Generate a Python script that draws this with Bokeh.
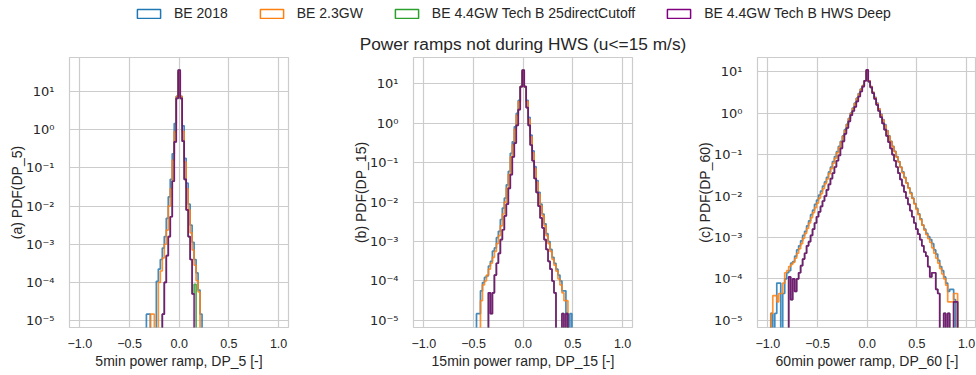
from bokeh.plotting import figure
from bokeh.layouts import column, row
from bokeh.models import Range1d, FixedTicker, CustomJSTickFormatter, Legend, LegendItem
from bokeh.embed import file_html
from bokeh.resources import INLINE

SERIES = ["BE 2018", "BE 2.3GW", "BE 4.4GW Tech B 25directCutoff", "BE 4.4GW Tech B HWS Deep"]
COLORS = ["#1f77b4", "#ff7f0e", "#2ca02c", "#800080"]
BIN_WIDTH = 0.02          # histogram bin width; bin centre = index * BIN_WIDTH
X_TICKS = [-1.0, -0.5, 0.0, 0.5, 1.0]
Y_TICKS = [1e-5, 1e-4, 1e-3, 1e-2, 1e-1, 1e0, 1e1]

# log10(PDF) per bin (None = empty bin); *_start = index of first bin
# ---- (a) 5 min ramps
a_be2018_start = -16
a_be2018 = [-4.83, -4.83, None, None, None, -3.97, -3.65, -3.4, -3.1, -2.8, -2.32, -1.76, -1.3, -0.63,
            0.16, 0.87, 1.5, 0.87, 0.1, -0.75, -1.4, -1.95, -2.5, -2.95, -3.4, -3.75, -4.2, -4.83]
a_be23_start = -14
a_be23 = [-4.83, -4.83, None, None, -4.0, -3.7, -3.36, -3.0, -2.63, -2.0, -1.54, -0.8, -0.05, 0.87,
          1.52, 0.87, -0.05, -0.85, -1.55, -2.1, -2.7, -3.15, -3.55, -3.95, -4.25]
a_cut_start = -8
a_cut = [-4.83, -4.0, -3.3, -2.8, -2.28, -1.35, -0.32, 0.82, 1.56, 0.82, -0.3, -1.3, -2.1, -2.8, -3.4,
         -4.3, -4.05]
a_deep_start = -8
a_deep = [-4.83, -4.0, -3.3, -2.8, -2.28, -1.35, -0.32, 0.82, 1.56, 0.82, -0.3, -1.3, -2.1, -2.8, -3.4,
          -4.3]

# ---- (b) 15 min ramps
b_be2018_start = -23
b_be2018 = [-4.83, -4.83, -4.25, -4.04, -3.91, -3.87, -3.62, -3.5, -3.24, -3.16, -2.9, -2.74, -2.44,
            -2.15, -1.9, -1.56, -1.22, -0.76, -0.47, -0.09, 0.25, 0.58, 0.93, 1.3, 0.93, 0.58, 0.15,
            -0.3, -0.7, -1.1, -1.45, -1.75, -2.05, -2.3, -2.55, -2.8, -3.0, -3.2, -3.4, -3.55, -3.7,
            -3.85, -4.0, -4.25, -4.25, -4.83, None, -4.83]
b_be23_start = -21
b_be23 = [-4.5, -4.1, -4.0, -3.85, -3.7, -3.55, -3.4, -3.25, -3.05, -2.85, -2.6, -2.3, -2.0, -1.65,
          -1.3, -0.85, -0.55, -0.15, 0.2, 0.55, 0.93, 1.32, 0.93, 0.55, 0.1, -0.35, -0.75, -1.15, -1.5,
          -1.8, -2.1, -2.35, -2.6, -2.85, -3.05, -3.25, -3.45, -3.6, -3.75, -3.95, -4.1, -4.3, -4.5,
          -4.5]
b_cut_start = -17
b_cut = [-4.3, -4.83, -4.3, -3.85, -3.55, -3.3, -2.95, -2.7, -2.35, -2.05, -1.65, -1.3, -0.85, -0.5,
         -0.05, 0.35, 0.93, 1.35, 0.93, 0.4, -0.05, -0.55, -0.95, -1.4, -1.75, -2.1, -2.4, -2.65,
         -2.95, -3.2, -3.5, -3.7, -4.0, -4.3, None, None, None, -4.83, None, -4.83]
b_deep_start = -17
b_deep = [-4.3, -4.83, -4.3, -3.85, -3.55, -3.3, -2.95, -2.7, -2.35, -2.05, -1.65, -1.3, -0.85, -0.5,
          -0.05, 0.35, 0.93, 1.35, 0.93, 0.4, -0.05, -0.55, -0.95, -1.4, -1.75, -2.1, -2.4, -2.65,
          -2.95, -3.2, -3.5, -3.7, -4.0, -4.3, None, None, None, -4.83, None, -4.83]

# ---- (c) 60 min ramps
c_be2018_start = -48
c_be2018 = [-4.83, None, -4.83, -4.1, -4.1, None, -4.35, -4.0, -3.85, -3.8,
            -3.62, -3.58, -3.45, -3.3, -3.2, -3.08, -2.95, -2.85, -2.72, -2.6,
            -2.45, -2.34, -2.2, -2.1, -1.98, -1.88, -1.76, -1.66, -1.55, -1.42,
            -1.3, -1.17, -1.05, -0.93, -0.8, -0.68, -0.55, -0.4, -0.27, -0.13,
            0.0, 0.12, 0.24, 0.36, 0.47, 0.58, 0.66, 0.78,
            1.0,
            0.78, 0.64, 0.5, 0.38, 0.24, 0.1, -0.03, -0.16, -0.28, -0.42,
            -0.55, -0.68, -0.8, -0.92, -1.05, -1.17, -1.3, -1.42, -1.55, -1.68,
            -1.8, -1.92, -2.05, -2.18, -2.3, -2.43, -2.55, -2.7, -2.8, -2.9,
            -2.98, -3.05, -3.15, -3.3, -3.4, -3.55, -3.7, -3.8, -3.95, -4.1,
            -4.3, -4.25, -4.25, -4.5]
c_be23_start = -48
c_be23 = [-4.83, -4.4, -4.4, -4.55, -4.35, -4.35, -4.1, -3.85, -3.8, -3.7,
          -3.65, -3.6, -3.5, -3.38, -3.27, -3.15, -3.02, -2.9, -2.78, -2.65,
          -2.52, -2.4, -2.28, -2.17, -2.05, -1.94, -1.82, -1.7, -1.59, -1.46,
          -1.34, -1.21, -1.09, -0.96, -0.83, -0.7, -0.56, -0.42, -0.28, -0.14,
          -0.01, 0.11, 0.23, 0.35, 0.46, 0.57, 0.66, 0.78,
          1.02,
          0.78, 0.64, 0.5, 0.37, 0.23, 0.1, -0.04, -0.17, -0.3, -0.43,
          -0.56, -0.69, -0.81, -0.93, -1.06, -1.18, -1.31, -1.44, -1.56, -1.69,
          -1.81, -1.94, -2.06, -2.19, -2.32, -2.45, -2.57, -2.7, -2.82, -2.93,
          -3.03, -3.12, -3.25, -3.38, -3.5, -3.62, -3.75, -3.88, -4.0, -4.15,
          -4.55, -4.55, -4.55, -4.35, -4.35]
c_cut_start = -39
c_cut = [-3.95, -4.5, -4.0, -4.3, -4.0, -3.85, -3.68, -3.52, -3.38, -3.2,
         -3.1, -2.95, -2.8, -2.65, -2.5, -2.38, -2.25, -2.12, -2.0, -1.85,
         -1.72, -1.58, -1.45, -1.3, -1.15, -1.02, -0.85, -0.68, -0.5, -0.36,
         -0.2, -0.05, 0.05, 0.15, 0.28, 0.4, 0.52, 0.64, 0.78,
         1.04,
         0.76, 0.62, 0.48, 0.34, 0.2, 0.05, -0.1, -0.25, -0.4, -0.55,
         -0.7, -0.85, -1.0, -1.15, -1.3, -1.45, -1.6, -1.75, -1.9, -2.05,
         -2.2, -2.35, -2.5, -2.65, -2.8, -2.92, -3.05, -3.2, -3.35, -3.45,
         -3.7, -3.95, -3.85, -3.85, -4.25, -4.35, None, None, -4.83, None,
         -4.83, None, None, -4.55, -4.55]
c_deep_start = -39
c_deep = [-3.95, -4.5, -4.0, -4.3, -4.0, -3.85, -3.68, -3.52, -3.38, -3.2,
          -3.1, -2.95, -2.8, -2.65, -2.5, -2.38, -2.25, -2.12, -2.0, -1.85,
          -1.72, -1.58, -1.45, -1.3, -1.15, -1.02, -0.85, -0.68, -0.5, -0.36,
          -0.2, -0.05, 0.05, 0.15, 0.28, 0.4, 0.52, 0.64, 0.78,
          1.04,
          0.76, 0.62, 0.48, 0.34, 0.2, 0.05, -0.1, -0.25, -0.4, -0.55,
          -0.7, -0.85, -1.0, -1.15, -1.3, -1.45, -1.6, -1.75, -1.9, -2.05,
          -2.2, -2.35, -2.5, -2.65, -2.8, -2.92, -3.05, -3.2, -3.35, -3.45,
          -3.7, -3.95, -3.85, -3.85, -4.25, -4.35, None, None, -4.83, None,
          -4.83, None, None, -4.55, -4.55]

PANELS = [
    dict(ylabel="(a) PDF(DP_5)", xlabel="5min power ramp, DP_5 [-]", ylog=(-5.18, 1.89),
         series=[(a_be2018_start, a_be2018), (a_be23_start, a_be23), (a_cut_start, a_cut), (a_deep_start, a_deep)]),
    dict(ylabel="(b) PDF(DP_15)", xlabel="15min power ramp, DP_15 [-]", ylog=(-5.18, 1.67),
         series=[(b_be2018_start, b_be2018), (b_be23_start, b_be23), (b_cut_start, b_cut), (b_deep_start, b_deep)]),
    dict(ylabel="(c) PDF(DP_60)", xlabel="60min power ramp, DP_60 [-]", ylog=(-5.17, 1.34),
         series=[(c_be2018_start, c_be2018), (c_be23_start, c_be23), (c_cut_start, c_cut), (c_deep_start, c_deep)]),
]
TITLE = "Power ramps not during HWS (u<=15 m/s)"

FLOOR = 1e-12
TXT = "#262626"
GRID = "#cccccc"
ALPHAS = [0.85, 0.85, 0.85, 0.85]


def step_xy(start, logvals):
    edges = [(start + i) * BIN_WIDTH - BIN_WIDTH / 2 for i in range(len(logvals) + 1)]
    ys = [FLOOR] + [10 ** v if v is not None else FLOOR for v in logvals] + [FLOOR]
    xs = [edges[0]] + edges
    return xs, ys


x_fmt = CustomJSTickFormatter(code="""
const s = Math.abs(tick).toFixed(1);
return tick < -1e-9 ? '\\u2212' + s : s;
""")
y_fmt = CustomJSTickFormatter(code="""
const sup = {'-':'\\u207b','0':'\\u2070','1':'\\u00b9','2':'\\u00b2','3':'\\u00b3','4':'\\u2074','5':'\\u2075','6':'\\u2076','7':'\\u2077','8':'\\u2078','9':'\\u2079'};
const e = Math.round(Math.log10(tick));
return '10' + String(e).split('').map(c => sup[c]).join('');
""")

widths = [344, 344, 288]
rights = [56, 56, 0]
figs = []
for i, pan in enumerate(PANELS):
    p = figure(width=widths[i], height=347, x_range=Range1d(-1.104, 1.10),
               y_range=Range1d(10 ** pan["ylog"][0], 10 ** pan["ylog"][1]), y_axis_type="log",
               toolbar_location=None, output_backend="svg",
               min_border_left=69, min_border_right=rights[i], min_border_top=27, min_border_bottom=48)
    p.background_fill_color = "white"
    p.border_fill_color = "white"
    p.outline_line_color = GRID
    p.outline_line_width = 1.2
    p.xaxis.ticker = FixedTicker(ticks=X_TICKS)
    p.yaxis.ticker = FixedTicker(ticks=Y_TICKS)
    p.xgrid.ticker = FixedTicker(ticks=X_TICKS)
    p.ygrid.ticker = FixedTicker(ticks=Y_TICKS)
    p.grid.grid_line_color = GRID
    p.grid.grid_line_width = 1.2
    p.xaxis.formatter = x_fmt
    p.yaxis.formatter = y_fmt
    for ax in (p.xaxis[0], p.yaxis[0]):
        ax.axis_line_color = None
        ax.major_tick_line_color = None
        ax.minor_tick_line_color = None
        ax.major_label_text_color = TXT
        ax.axis_label_text_color = TXT
        ax.axis_label_text_font = "Liberation Sans"
        ax.axis_label_text_font_style = "normal"
        ax.axis_label_text_font_size = "14px"
    p.xaxis.major_label_text_font = "Liberation Sans"
    p.xaxis.major_label_text_font_size = "12.5px"
    p.yaxis.major_label_text_font = "DejaVu Sans"
    p.yaxis.major_label_text_font_size = "13px"
    p.xaxis.axis_label = pan["xlabel"]
    p.yaxis.axis_label = pan["ylabel"]
    p.xaxis.major_label_standoff = 5
    p.xaxis.axis_label_standoff = 2
    p.yaxis.major_label_standoff = 9
    p.yaxis.axis_label_standoff = -2
    for (start, vals), col, al in zip(pan["series"], COLORS, ALPHAS):
        xs, ys = step_xy(start, vals)
        p.step(xs, ys, mode="after", line_color=col, line_width=1.7, line_alpha=al)
    if i == 1:
        p.title.text = TITLE
        p.title.align = "center"
        p.title.text_font = "Liberation Sans"
        p.title.text_font_style = "normal"
        p.title.text_font_size = "17.3px"
        p.title.text_color = TXT
        p.title.standoff = 7
    figs.append(p)

header = figure(width=976, height=28, x_range=(0, 1), y_range=(0, 1), toolbar_location=None,
                output_backend="svg", x_axis_location=None, y_axis_location=None, min_border=0)
header.grid.visible = False
header.outline_line_color = None
items = []
nan = float("nan")
for name, col in zip(SERIES, COLORS):
    r = header.quad(left=[nan], right=[nan], top=[nan], bottom=[nan], fill_alpha=0,
                    line_color=col, line_width=1.5)
    items.append(LegendItem(label=name, renderers=[r]))
leg = Legend(items=items, orientation="horizontal", location=(134, 7), glyph_width=29, glyph_height=11,
             label_standoff=11, spacing=29, padding=0, margin=0, border_line_color=None,
             background_fill_alpha=0, label_text_font="Liberation Sans", label_text_font_size="14px",
             label_text_color=TXT, label_height=14)
header.add_layout(leg)

layout = column(header, row(*figs, spacing=0), spacing=0)
open("out.html", "w").write(file_html(layout, INLINE))
